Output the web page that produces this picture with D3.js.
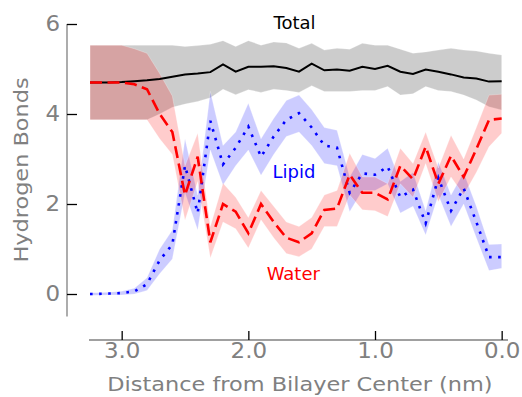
<!DOCTYPE html>
<html>
<head>
<meta charset="utf-8">
<script src="https://cdn.jsdelivr.net/npm/d3@7"></script>
<style>
  html, body { margin: 0; padding: 0; background: #fff; }
  svg { display: block; font-family: "DejaVu Sans", sans-serif; }
</style>
</head>
<body>
<div id="chart"></div>
<script>
// distance from bilayer center (nm)
const dist = [3.25, 3.2, 3.1, 3.0, 2.9, 2.8, 2.7, 2.6, 2.5, 2.4, 2.3, 2.2, 2.1, 2.0, 1.9, 1.8, 1.7,
  1.6, 1.5, 1.4, 1.3, 1.2, 1.1, 1.0, 0.9, 0.8, 0.7, 0.6, 0.5, 0.4, 0.3, 0.2, 0.1, 0.0];

const totalMean = [4.70, 4.70, 4.70, 4.71, 4.73, 4.75, 4.78, 4.83, 4.88, 4.90, 4.93, 5.10, 4.94, 5.05, 5.05, 5.06, 5.02,
  4.94, 5.12, 4.97, 4.99, 4.96, 5.05, 5.00, 5.07, 4.94, 4.89, 4.99, 4.94, 4.88, 4.81, 4.79, 4.72, 4.73];
const totalLo = [3.87, 3.87, 3.87, 3.87, 3.87, 3.87, 4.00, 4.15, 4.22, 4.28, 4.36, 4.55, 4.43, 4.54, 4.48, 4.55, 4.52,
  4.48, 4.63, 4.50, 4.50, 4.50, 4.52, 4.52, 4.61, 4.42, 4.45, 4.61, 4.52, 4.50, 4.42, 4.31, 4.16, 4.09];
const totalHi = [5.53, 5.53, 5.53, 5.53, 5.53, 5.53, 5.53, 5.53, 5.50, 5.52, 5.55, 5.63, 5.50, 5.63, 5.53, 5.60, 5.58,
  5.46, 5.57, 5.42, 5.46, 5.44, 5.57, 5.53, 5.53, 5.44, 5.35, 5.38, 5.42, 5.46, 5.42, 5.40, 5.35, 5.31];

const lipidMean = [0.00, 0.00, 0.01, 0.02, 0.06, 0.22, 0.75, 1.10, 2.85, 1.80, 3.85, 2.88, 3.25, 3.72, 3.05, 3.50, 3.87,
  4.02, 3.70, 3.30, 3.25, 2.25, 2.68, 2.65, 2.83, 2.15, 2.32, 1.57, 2.58, 1.85, 2.35, 1.60, 0.82, 0.82];
const lipidLo = [-0.03, -0.03, -0.02, -0.02, 0.00, 0.08, 0.45, 0.78, 2.25, 1.42, 3.20, 2.42, 2.85, 3.20, 2.64, 3.10, 3.50,
  3.60, 3.30, 2.90, 2.85, 1.83, 2.30, 2.30, 2.45, 1.80, 1.95, 1.31, 2.20, 1.50, 2.00, 1.25, 0.52, 0.57];
const lipidHi = [0.03, 0.03, 0.04, 0.06, 0.13, 0.36, 1.00, 1.42, 3.45, 2.20, 4.50, 3.30, 3.60, 4.24, 3.45, 3.90, 4.30,
  4.42, 4.10, 3.70, 3.64, 2.60, 3.10, 3.01, 3.24, 2.50, 2.70, 1.85, 2.94, 2.20, 2.70, 1.95, 1.10, 1.11];

const waterMean = [4.70, 4.70, 4.70, 4.70, 4.66, 4.55, 4.00, 3.60, 2.20, 3.05, 1.15, 2.00, 1.83, 1.35, 2.00, 1.60, 1.25,
  1.15, 1.35, 1.87, 1.90, 2.65, 2.25, 2.25, 2.10, 2.85, 2.55, 3.27, 2.45, 3.07, 2.60, 3.22, 3.87, 3.90];
const waterLo = [3.87, 3.87, 3.87, 3.87, 3.87, 3.87, 3.45, 3.10, 1.64, 2.50, 0.80, 1.60, 1.45, 1.02, 1.65, 1.25, 0.90,
  0.83, 1.00, 1.50, 1.50, 2.20, 1.87, 1.85, 1.72, 2.45, 2.15, 2.90, 2.05, 2.60, 2.20, 2.70, 3.27, 3.57];
const waterHi = [5.53, 5.53, 5.53, 5.53, 5.45, 5.35, 4.90, 4.40, 2.85, 3.57, 1.50, 2.46, 2.15, 1.70, 2.30, 1.95, 1.60,
  1.50, 1.70, 2.20, 2.30, 3.13, 2.60, 2.60, 2.45, 3.24, 2.90, 3.60, 2.80, 3.53, 3.00, 3.70, 4.42, 4.44];

const xTicks = [3, 2, 1, 0];
const yTicks = [0, 2, 4, 6];

const seriesNames = ['Total', 'Lipid', 'Water'];
const seriesColors = ['#000000', '#0000ff', '#ff0000'];
// label anchor positions in data units (distance, bonds)
const labelDist = [1.635, 1.64, 1.645];
const labelBonds = [5.90, 2.57, 0.31];

const W = 522, H = 397;

const svg = d3.select('#chart')
  .append('svg')
  .attr('width', W)
  .attr('height', H);

const x = d3.scaleLinear().domain([3.258, -0.05]).range([89, 508]);
const y = d3.scaleLinear().domain([-0.5, 6]).range([316.5, 24]);

function rows(mean, lo, hi) {
  return dist.map((d, i) => ({ d: d, m: mean[i], lo: lo[i], hi: hi[i] }));
}

const series = [
  rows(totalMean, totalLo, totalHi),
  rows(lipidMean, lipidLo, lipidHi),
  rows(waterMean, waterLo, waterHi)
];

const area = d3.area()
  .x(r => x(r.d))
  .y0(r => y(r.lo))
  .y1(r => y(r.hi));

const line = d3.line()
  .x(r => x(r.d))
  .y(r => y(r.m));

// shaded bands first
const bands = svg.append('g').attr('class', 'bands');
series.forEach((s, i) => {
  bands.append('path')
    .datum(s)
    .attr('d', area)
    .attr('fill', seriesColors[i])
    .attr('fill-opacity', 0.2)
    .attr('stroke', '#fff')
    .attr('stroke-opacity', 0.25)
    .attr('stroke-width', 1);
});

// mean lines
const lines = svg.append('g').attr('class', 'lines');
lines.append('path').datum(series[0])
  .attr('d', line).attr('fill', 'none')
  .attr('stroke', seriesColors[0]).attr('stroke-width', 2);
lines.append('path').datum(series[1])
  .attr('d', line).attr('fill', 'none')
  .attr('stroke', seriesColors[1]).attr('stroke-width', 2.6)
  .attr('stroke-dasharray', '2.6,6.5');
lines.append('path').datum(series[2])
  .attr('d', line).attr('fill', 'none')
  .attr('stroke', seriesColors[2]).attr('stroke-width', 2.6)
  .attr('stroke-dasharray', '12,5.5');

// series labels
svg.append('g').selectAll('text')
  .data(seriesNames)
  .enter()
  .append('text')
  .attr('x', (d, i) => x(labelDist[i]))
  .attr('y', (d, i) => y(labelBonds[i]))
  .attr('text-anchor', 'middle')
  .attr('font-size', '18px')
  .attr('fill', (d, i) => seriesColors[i])
  .text(d => d);

// axes
const axisGray = '#808080';
const stretch = 1.12;

function widen(sel) {
  sel.each(function () {
    const len = this.getComputedTextLength();
    d3.select(this)
      .attr('textLength', len * stretch)
      .attr('lengthAdjust', 'spacingAndGlyphs');
  });
}

const yAxis = svg.append('g')
  .attr('transform', 'translate(67,0)')
  .call(d3.axisLeft(y).tickValues(yTicks).tickSize(-10).tickPadding(7).tickFormat(d3.format('d')));

const xAxis = svg.append('g')
  .attr('transform', 'translate(0,340)')
  .call(d3.axisBottom(x).tickValues(xTicks).tickSize(-9).tickPadding(3).tickFormat(d3.format('.1f')));

[yAxis, xAxis].forEach(ax => {
  ax.select('.domain').attr('stroke', axisGray).attr('stroke-width', 1.3);
  ax.selectAll('.tick line').attr('stroke', '#000').attr('stroke-width', 1.3);
  ax.selectAll('.tick text')
    .attr('fill', axisGray)
    .attr('font-size', '20.5px')
    .attr('font-family', '"DejaVu Sans", sans-serif')
    .call(widen);
});

// spines only span the axes box, no end caps
yAxis.select('.domain').attr('d', `M0,${y(6)}V${y(-0.5)}`);
xAxis.select('.domain').attr('d', `M${x(3.258)},0H${x(-0.05)}`);

svg.append('text')
  .attr('x', 300)
  .attr('y', 390.5)
  .attr('text-anchor', 'middle')
  .attr('font-size', '20px')
  .attr('fill', axisGray)
  .text('Distance from Bilayer Center (nm)')
  .call(widen);

svg.append('text')
  .attr('transform', 'translate(27.6,170) rotate(-90)')
  .attr('text-anchor', 'middle')
  .attr('font-size', '20px')
  .attr('fill', axisGray)
  .text('Hydrogen Bonds')
  .call(widen);
</script>
</body>
</html>
